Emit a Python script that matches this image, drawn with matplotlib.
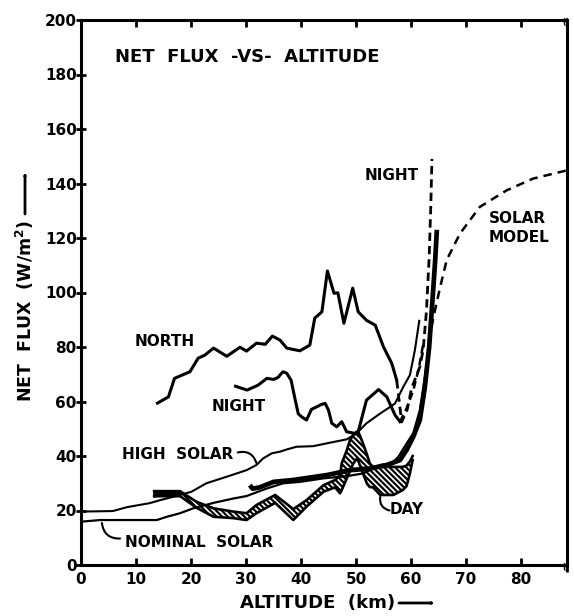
import matplotlib
matplotlib.use("Agg")
import matplotlib.pyplot as plt

plt.rcParams['font.family'] = ['DejaVu Sans']
plt.rcParams['font.weight'] = 'bold'
plt.rcParams['hatch.linewidth'] = 1.6
plt.rcParams['mathtext.default'] = 'bf'

# ---- data (altitude in km, net flux in W/m^2) ----
north_alt = [13.9, 15.9, 17.0, 19.8, 21.3, 22.5, 24.1, 26.5, 28.9, 30.1, 31.9, 33.5, 34.8,
             36.2, 37.4, 39.8, 41.6, 42.5, 43.8, 44.8, 46.0, 46.7, 47.8, 49.4, 50.4, 51.9,
             53.5, 55.0, 56.5, 57.4]
north_flux = [59.4, 61.7, 68.5, 70.9, 75.9, 77.0, 79.6, 76.6, 79.9, 78.5, 81.4, 81.0, 84.0,
              82.5, 79.6, 78.6, 80.7, 90.6, 92.9, 107.9, 99.7, 99.9, 88.7, 101.6, 92.9, 89.8,
              88.0, 80.0, 74.0, 67.8]

north_ext_alt = [57.4, 58.3, 59.3, 60.1, 61.6, 62.2, 62.8, 63.3, 63.6, 63.8]
north_ext_flux = [67.8, 52.5, 57.0, 64.8, 72.7, 78.8, 93.0, 113.0, 132.0, 149.0]

night_alt = [28.1, 30.2, 32.2, 33.8, 35.0, 35.8, 36.7, 37.4, 38.2, 38.9, 39.5, 40.1, 41.0,
             41.9, 43.8, 44.4, 45.0, 45.6, 46.5, 47.4, 48.3, 49.8, 50.4, 51.9, 54.1, 55.6,
             57.1, 58.0]
night_flux = [65.6, 64.2, 66.0, 68.5, 68.1, 68.8, 70.9, 70.4, 67.8, 61.0, 55.5, 54.4, 53.2,
              57.1, 59.0, 59.3, 56.8, 52.0, 50.7, 52.6, 48.9, 48.3, 48.9, 60.5, 64.4, 61.7,
              55.0, 52.6]

night_ext_alt = [58.0, 59.2, 60.4, 61.4, 62.3]
night_ext_flux = [52.6, 57.5, 64.0, 72.0, 82.0]

high_alt = [0.0, 5.8, 8.3, 12.5, 14.4, 18.0, 20.1, 22.8, 26.5, 30.1, 31.9, 33.1, 34.7, 36.2,
            37.4, 39.2, 42.2, 45.3, 48.3, 50.1, 51.9, 54.4, 56.2, 57.1, 58.6, 59.8, 60.7, 61.5]
high_flux = [19.6, 19.8, 21.2, 22.7, 23.8, 25.7, 26.9, 30.0, 32.4, 34.8, 36.7, 39.1, 41.0,
             41.6, 42.4, 43.4, 43.6, 44.9, 46.1, 48.3, 52.0, 55.6, 58.0, 59.3, 65.4, 69.7,
             78.8, 89.6]

nominal_alt = [0.0, 3.5, 13.8, 15.6, 18.0, 20.4, 24.1, 27.7, 30.1, 33.8, 36.8, 39.8, 44.1,
               48.3, 51.3, 54.4, 56.5, 57.7, 59.2, 60.4, 61.6, 62.8, 63.8]
nominal_flux = [15.9, 16.5, 16.5, 17.7, 19.0, 20.8, 22.8, 24.4, 25.3, 28.1, 30.0, 30.5, 31.8,
                32.6, 33.6, 36.7, 37.3, 39.7, 44.6, 48.3, 56.8, 72.7, 89.8]

thick_alt = [30.7, 31.2, 32.5, 35.0, 38.6, 44.7, 48.9, 52.5, 55.6, 58.0, 59.2, 60.4, 61.6,
             62.5, 63.3, 64.0, 64.4, 64.7]
thick_flux = [29.3, 28.0, 28.5, 30.5, 31.2, 33.0, 34.8, 35.4, 36.7, 38.5, 42.2, 47.0, 53.2,
              65.0, 80.0, 100.0, 112.0, 123.0]

model_alt = [63.2, 64.2, 65.3, 66.5, 68.9, 72.5, 77.4, 82.2, 88.3]
model_flux = [82.0, 92.0, 102.0, 112.0, 121.6, 131.4, 137.5, 141.8, 144.8]

day_alt = [13.3, 18.0, 21.0, 24.1, 27.7, 30.1, 31.9, 35.3, 38.6, 41.0, 44.1, 46.2, 47.1, 47.4,
           48.3, 48.9, 49.5, 50.2, 50.5, 51.2, 52.0, 52.5, 53.1, 54.4, 56.8, 58.5, 59.2, 59.8,
           60.3]
day_upper = [27.1, 27.1, 23.2, 20.8, 19.6, 19.0, 22.0, 25.7, 20.5, 23.8, 29.3, 31.2, 33.0,
             37.3, 42.0, 45.8, 47.8, 49.0, 48.5, 45.0, 40.5, 37.3, 36.0, 36.0, 36.0, 36.0,
             36.5, 38.0, 40.0]
day_lower = [25.3, 25.3, 21.0, 17.7, 17.2, 16.5, 19.0, 22.8, 16.5, 21.4, 26.9, 28.5, 26.3,
             27.5, 31.7, 34.5, 37.2, 39.2, 37.7, 34.0, 29.8, 28.6, 28.5, 25.7, 25.7, 27.5,
             29.0, 33.6, 38.5]

x_ticks = [0, 10, 20, 30, 40, 50, 60, 70, 80]
y_ticks = [0, 20, 40, 60, 80, 100, 120, 140, 160, 180, 200]

# ---- figure ----
W, H = 574, 616
fig = plt.figure(figsize=(W / 100, H / 100), dpi=100)
ax = fig.add_axes([81 / W, (H - 565) / H, (567 - 81) / W, 545 / H])
ax.set_xlim(0, 88.36)
ax.set_ylim(0, 200)

# hatched daytime band
ax.fill_between(day_alt, day_lower, day_upper, facecolor='white', edgecolor='black',
                hatch='\\\\\\\\\\\\', linewidth=0, zorder=2)
ax.plot(day_alt, day_upper, color='black', lw=1.9, zorder=3)
ax.plot(day_alt, day_lower, color='black', lw=1.9, zorder=3)
ax.plot([day_alt[0], day_alt[0]], [day_lower[0], day_upper[0]], color='black', lw=1.8, zorder=3)
ax.fill_between(day_alt[:2], day_lower[:2], day_upper[:2], color='black', zorder=3)

ax.plot(high_alt, high_flux, color='black', lw=1.5, zorder=4)
ax.plot(nominal_alt, nominal_flux, color='black', lw=1.6, zorder=4)
ax.plot(north_alt, north_flux, color='black', lw=2.2, zorder=4)
ax.plot(night_alt, night_flux, color='black', lw=2.2, zorder=4)
ax.plot(thick_alt, thick_flux, color='black', lw=3.4, zorder=5, solid_capstyle='butt')

ax.plot(north_ext_alt, north_ext_flux, color='black', lw=2.0, dashes=(3.0, 1.8), zorder=4)
ax.plot(night_ext_alt, night_ext_flux, color='black', lw=1.8, dashes=(3.0, 1.8), zorder=4)
ax.plot(model_alt, model_flux, color='black', lw=1.8, dashes=(3.4, 2.4), zorder=4)

# axes styling
for side in ['left', 'bottom', 'top', 'right']:
    ax.spines[side].set_linewidth(2.2)
ax.set_xticks(x_ticks)
ax.set_yticks(y_ticks)
ax.set_xticklabels([str(v) for v in x_ticks], fontsize=11, fontweight='bold')
ax.set_yticklabels([str(v) for v in y_ticks], fontsize=11, fontweight='bold')
ax.tick_params(axis='x', direction='in', length=5, width=2, pad=5, top=True)
ax.tick_params(axis='y', direction='inout', length=7, width=2, pad=-0.5, right=True)
for t in ax.yaxis.get_major_ticks():
    t.tick2line.set_marker(3)
    t.tick2line.set_markersize(5)

# break marks on the right corners
ax.text(1.0, 1.0, '\u2248', transform=ax.transAxes, rotation=90, fontsize=9,
        ha='center', va='center')
ax.text(1.0, 0.0, '\u2248', transform=ax.transAxes, rotation=90, fontsize=9,
        ha='center', va='center')

# curve labels
lab = dict(fontsize=11, fontweight='bold', ha='center', va='center')
ax.text(6.2, 186.3, 'NET  FLUX  -VS-  ALTITUDE', fontsize=13, fontweight='bold',
        ha='left', va='center')
ax.text(15.2, 82.2, 'NORTH', **lab)
ax.text(28.6, 58.3, 'NIGHT', **lab)
ax.text(17.6, 40.7, 'HIGH  SOLAR', **lab)
ax.text(21.5, 8.4, 'NOMINAL  SOLAR', **lab)
ax.text(59.2, 20.2, 'DAY', **lab)
ax.text(56.5, 143.0, 'NIGHT', **lab)
ax.text(74.2, 127.1, 'SOLAR', fontsize=11, fontweight='bold', ha='left', va='center')
ax.text(74.2, 120.2, 'MODEL', fontsize=11, fontweight='bold', ha='left', va='center')

lead = dict(arrowstyle='-', lw=1.5, color='black', shrinkA=0, shrinkB=0,
            connectionstyle='arc3,rad=-0.45')
ax.annotate('', xy=(31.9, 37.4), xytext=(28.5, 41.3), arrowprops=lead)
ax.annotate('', xy=(3.8, 15.4), xytext=(7.1, 9.7), arrowprops=lead)
ax.annotate('', xy=(54.4, 25.0), xytext=(56.1, 20.0), arrowprops=lead)

# axis titles with arrows
fig.text(25 / W, (H - 311) / H, r'NET  FLUX  (W/m$^{2}$)', rotation=90, fontsize=12.5,
         fontweight='bold', ha='center', va='center')
fig.text(318 / W, 13 / H, 'ALTITUDE  (km)', fontsize=13, fontweight='bold',
         ha='center', va='center')
arr = dict(arrowstyle='-|>,head_length=0.5,head_width=0.22', lw=2, color='black',
           shrinkA=0, shrinkB=0)
fig.add_artist(matplotlib.patches.FancyArrowPatch((25, H - 214), (25, H - 172),
               transform=None, **arr))
fig.add_artist(matplotlib.patches.FancyArrowPatch((399, 13), (435, 13),
               transform=None, **arr))

fig.savefig('out.png', dpi=100)
